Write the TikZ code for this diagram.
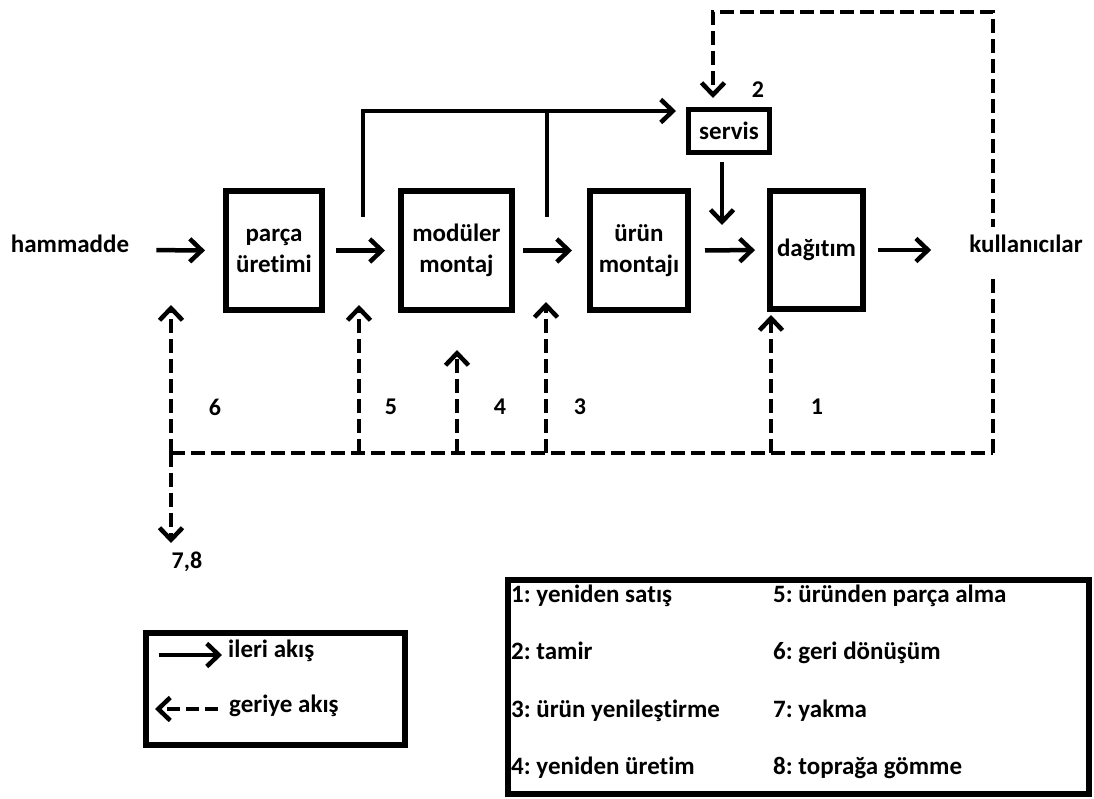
\documentclass[tikz,border=0pt]{standalone}
\usepackage{fontspec}
\setmainfont{Carlito}[Ligatures=NoCommon]
\usetikzlibrary{arrows.meta}
\newcommand\myfs{\fontsize{25}{31}\selectfont\bfseries}
\newcommand\mynum{\fontsize{24}{28}\selectfont\bfseries}
\begin{document}
\frenchspacing
\begin{tikzpicture}[x=1pt,y=-1pt,
  box/.style={draw, line width=6pt, inner sep=0pt, align=center, font=\myfs},
  lbl/.style={inner sep=0pt, font=\myfs, text height=0.72em, text depth=0.2em},
  num/.style={inner sep=0pt, font=\mynum},
  fwd/.style={line width=4.5pt, -{Straight Barb[length=12pt,width=23pt]}},
  plain/.style={line width=4.5pt},
  dsh/.style={line width=4.5pt, dash pattern=on 14pt off 6pt},
  bwd/.style={dsh, -{Straight Barb[length=12pt,width=23pt]}},
]
\useasboundingbox (0,0) rectangle (1094,798);

% dashed backward network
\coordinate (bL) at (171,453);
\coordinate (b5) at (359,453);
\coordinate (b4) at (457,453);
\coordinate (b3) at (546,453);
\coordinate (b1) at (771,453);
\coordinate (bR) at (993,453);
\coordinate (tR) at (993,12);
\coordinate (tL) at (713,12);
\coordinate (sTop) at (713,98);
\draw[dsh] (bL) -- (bR);
\draw[bwd] (bR) -- (tR) -- (tL) -- (sTop);

% nodes
\node[lbl] (ham) at (70,250) {hammadde};
\node[box, minimum width=96pt, minimum height=119pt] (parca) at (274,250.5) {parça\\üretimi};
\node[box, minimum width=111pt, minimum height=119pt] (modul) at (456.5,250.5) {modüler\\montaj};
\node[box, minimum width=98pt, minimum height=119pt] (urun) at (639,250.5) {ürün\\montajı};
\node[box, minimum width=93pt, minimum height=118pt] (dagit) at (816.5,250) {dağıtım};
\node[box, line width=5pt, minimum width=81pt, minimum height=43pt] (servis) at (729,131) {servis};
\node[lbl, fill=white, minimum height=46pt] (kull) at (1026,250) {kullanıcılar};

% forward flow
\draw[fwd, shorten <=27pt, shorten >=18pt] (ham.east) -- (parca.west);
\draw[fwd, shorten <=11pt, shorten >=13pt] (parca.east) -- (modul.west);
\draw[fwd, shorten <=8pt, shorten >=15pt] (modul.east) -- (urun.west);
\draw[fwd, shorten <=14pt, shorten >=12pt] (urun.east) -- (dagit.west);
\draw[fwd, shorten <=12pt, shorten >=38pt] (dagit.east) -- (kull.west);

\coordinate (t1) at (363,217);
\coordinate (t2) at (547,217);
\coordinate (svIn) at (676,111);
\coordinate (svOut) at (722,162);
\coordinate (dgIn) at (722,225);
\draw[fwd] (t1) |- (svIn);
\draw[plain] (t2) -- (t2 |- svIn);
\draw[fwd] (svOut) -- (dgIn);

% backward verticals
\coordinate (u6) at (171,305);
\coordinate (d6) at (171,543);
\coordinate (u5) at (359,305);
\coordinate (u4) at (457,350);
\coordinate (u3) at (546,302);
\coordinate (u1) at (771,315);
\draw[bwd] (bL) -- (u6);
\draw[bwd] (bL) -- (d6);
\draw[bwd] (b5) -- (u5);
\draw[bwd] (b4) -- (u4);
\draw[bwd] (b3) -- (u3);
\draw[bwd] (b1) -- (u1);

% numbers
\node[num] (n6) at (215,407) {6};
\node[num] (n5) at (391,407) {5};
\node[num] (n4) at (500,407) {4};
\node[num] (n3) at (580,407) {3};
\node[num] (n1) at (817,407) {1};
\node[num] (n78) at (187,562) {7,8};
\node[num] (n2) at (758,90) {2};

% left legend
\node[draw, line width=6pt, minimum width=259pt, minimum height=112pt] (legL) at (275,688.5) {};
\coordinate (la1) at (159,655);
\coordinate (la2) at (222,655);
\coordinate (lb1) at (218,709);
\coordinate (lb2) at (155,709);
\draw[fwd] (la1) -- (la2);
\draw[line width=4.5pt, dash pattern=on 13pt off 6pt, -{Straight Barb[length=12pt,width=23pt]}] (lb1) -- (lb2);
\node[lbl, anchor=west] (lt1) at (228,655) {ileri akış};
\node[lbl, anchor=west] (lt2) at (229,710) {geriye akış};

% right legend
\node[draw, line width=6pt, minimum width=581pt, minimum height=214pt] (legR) at (798.5,687) {};
\node[lbl, anchor=west] (r1) at (511,600) {1: yeniden satış};
\node[lbl, anchor=west] (r2) at (511,657) {2: tamir};
\node[lbl, anchor=west] (r3) at (511,715) {3: ürün yenileştirme};
\node[lbl, anchor=west] (r4) at (511,772) {4: yeniden üretim};
\node[lbl, anchor=west] (r5) at (773,600) {5: üründen parça alma};
\node[lbl, anchor=west] (r6) at (773,657) {6: geri dönüşüm};
\node[lbl, anchor=west] (r7) at (773,715) {7: yakma};
\node[lbl, anchor=west] (r8) at (773,772) {8: toprağa gömme};
\end{tikzpicture}
\end{document}
